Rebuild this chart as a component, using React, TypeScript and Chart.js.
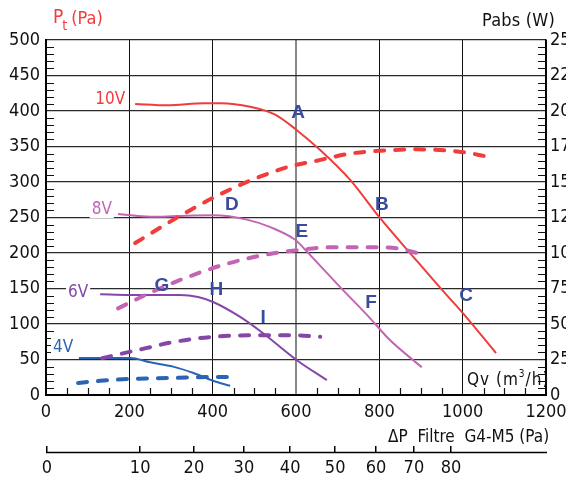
import React, { useEffect, useRef } from 'react';
import { Chart, registerables } from 'chart.js';
Chart.register(...registerables);

const FONT = "'DejaVu Sans Condensed', 'Liberation Sans Narrow', sans-serif";
const BOLD_FONT = "'Liberation Sans', 'DejaVu Sans', sans-serif";

// 10V
const qv10 = [214, 290, 380, 420, 490, 550, 602, 658, 730, 802, 881, 952, 1001, 1080];
const pt10 = [410, 408, 411, 411, 406, 395, 373, 345, 303, 249, 195, 147, 115, 59];
const qvW10 = [214, 315, 402, 490, 586, 650, 730, 802, 890, 1001, 1058];
const w10 = [107, 125, 139, 151, 161, 165, 170, 172, 173, 171, 168];
// 8V
const qv8 = [173, 250, 314, 401, 482, 540, 597, 620, 642, 706, 778, 826, 902];
const pt8 = [255, 251, 252, 253, 247, 236, 219, 206, 192, 152, 108, 77, 39];
const qvW8 = [173, 250, 322, 418, 521, 602, 682, 722, 794, 850, 890];
const w8 = [61, 72, 81, 91, 98.5, 102, 104, 104, 104, 103, 100];
// 6V
const qv6 = [130, 200, 274, 322, 365, 401, 466, 521, 602, 674];
const pt6 = [142, 141, 141, 141, 138, 131, 110, 87, 49, 21];
const qvW6 = [135, 180, 240, 300, 401, 490, 602, 658];
const w6 = [26, 29, 33, 37, 41, 42, 42, 41];
// 4V
const qv4 = [79, 154, 202, 250, 305, 354, 401, 442];
const pt4 = [52, 52, 52, 46, 40, 31, 20, 13];
const qvW4 = [77, 130, 202, 305, 410, 442];
const w4 = [8.5, 10, 11.3, 12, 12.7, 12.7];

// Filter pressure-drop secondary axis
const dpLabels = ['0', '10', '20', '30', '40', '50', '60', '70', '80'];
const dpQv = [2, 226, 355, 475, 586, 694, 792, 883, 972];

// Curve labels
const voltTexts = ['10V', '8V', '6V', '4V'];
const voltQv = [154, 134, 77, 41];
const voltPa = [417, 262, 145, 68];
const letterTexts = ['A', 'B', 'C', 'D', 'E', 'F', 'G', 'H', 'I'];
const letterQv = [605, 806, 1008, 446, 614, 780, 278, 409, 521];
const letterPa = [399, 270, 141, 270, 232, 131, 155, 149, 110];

const RED = '#f03c3c';
const PINK = '#c464b4';
const PURPLE = '#8646a8';
const BLUE = '#2b63b5';
const LETTER = '#3a4ca0';
const voltColors = [RED, PINK, PURPLE, BLUE];

const pts = (xs: number[], ys: number[]) => xs.map((x, i) => ({ x, y: ys[i] }));

const solid = (data: any, color: string) => ({
  data,
  borderColor: color,
  borderWidth: 2,
  pointRadius: 0,
  tension: 0.4,
  cubicInterpolationMode: 'monotone',
  yAxisID: 'y',
  fill: false,
});
const dashed = (data: any, color: string) => ({
  data,
  borderColor: color,
  borderWidth: 4,
  borderDash: [9, 11],
  borderCapStyle: 'round',
  pointRadius: 0,
  tension: 0.4,
  cubicInterpolationMode: 'monotone',
  yAxisID: 'y2',
  fill: false,
});

function spacedText(ctx: any, text: string, x: number, y: number, width: number) {
  ctx.letterSpacing = '0px';
  const w = ctx.measureText(text).width;
  const ls = Math.max(0, (width - w) / text.length);
  ctx.letterSpacing = ls + 'px';
  ctx.fillText(text, x, y);
  ctx.letterSpacing = '0px';
}

const decorPlugin = {
  id: 'decor',
  beforeDatasetsDraw(chart: any) {
    const { ctx, chartArea: a, scales } = chart;
    const x = scales.x, y = scales.y, y2 = scales.y2;
    ctx.save();
    ctx.strokeStyle = '#111';
    ctx.lineWidth = 1.2;
    ctx.beginPath();
    for (let v = 10; v < 500; v += 10) {
      if (v % 50 === 0) continue;
      const py = Math.round(y.getPixelForValue(v)) + 0.5;
      ctx.moveTo(a.left, py);
      ctx.lineTo(a.left + 8, py);
    }
    for (let v = 5; v < 250; v += 5) {
      if (v % 25 === 0) continue;
      const py = Math.round(y2.getPixelForValue(v)) + 0.5;
      ctx.moveTo(a.right - 8, py);
      ctx.lineTo(a.right, py);
    }
    for (let v = 50; v < 1200; v += 50) {
      if (v % 200 === 0) continue;
      const px = Math.round(x.getPixelForValue(v)) + 0.5;
      ctx.moveTo(px, a.bottom);
      ctx.lineTo(px, a.bottom - 7);
    }
    ctx.stroke();

    // voltage labels with white background
    ctx.font = `17px ${FONT}`;
    ctx.textAlign = 'center';
    ctx.textBaseline = 'middle';
    voltTexts.forEach((t, i) => {
      const px = x.getPixelForValue(voltQv[i]);
      const py = y.getPixelForValue(voltPa[i]);
      const w = ctx.measureText(t).width;
      ctx.fillStyle = '#fff';
      ctx.fillRect(px - w / 2 - 2, py - 9, w + 4, 18);
      ctx.fillStyle = voltColors[i];
      ctx.fillText(t, px, py + 1);
    });
    ctx.restore();
  },
  afterDatasetsDraw(chart: any) {
    const { ctx, scales } = chart;
    const x = scales.x, y = scales.y;
    ctx.save();
    ctx.font = `bold 19px ${BOLD_FONT}`;
    ctx.textAlign = 'center';
    ctx.textBaseline = 'middle';
    ctx.fillStyle = LETTER;
    letterTexts.forEach((t, i) => {
      ctx.fillText(t, x.getPixelForValue(letterQv[i]), y.getPixelForValue(letterPa[i]) + 1);
    });
    ctx.restore();
  },
  afterDraw(chart: any) {
    const { ctx, chartArea: a, scales } = chart;
    const x2 = scales.x2;
    ctx.save();
    // secondary axis base line
    const ly = x2.top + 6.5;
    ctx.strokeStyle = '#000';
    ctx.lineWidth = 1.5;
    ctx.beginPath();
    ctx.moveTo(x2.getPixelForValue(0), ly);
    ctx.lineTo(a.right + 1, ly);
    ctx.stroke();

    ctx.textBaseline = 'middle';
    ctx.fillStyle = '#111';
    // ΔP title
    ctx.font = `17px ${FONT}`;
    ctx.textAlign = 'left';
    spacedText(ctx, 'ΔP  Filtre  G4-M5 (Pa)', a.right - 158, 438, 158);

    // Qv label
    let qx = a.right - 79;
    const qy = a.bottom - 14;
    ctx.font = `17px ${FONT}`;
    ctx.letterSpacing = '1px';
    ctx.fillText('Qv (m', qx, qy);
    qx += ctx.measureText('Qv (m').width;
    ctx.font = `10px ${FONT}`;
    ctx.fillText('3', qx, qy - 7);
    qx += ctx.measureText('3').width;
    ctx.font = `17px ${FONT}`;
    ctx.fillText('/h)', qx, qy);
    ctx.letterSpacing = '0px';

    // Pabs (W)
    ctx.font = `18px ${FONT}`;
    spacedText(ctx, 'Pabs (W)', 482, 21, 73);

    // Pt (Pa)
    ctx.fillStyle = RED;
    ctx.font = `19px ${FONT}`;
    let tx = 53;
    ctx.fillText('P', tx, 18);
    tx += ctx.measureText('P').width - 1;
    ctx.font = `14px ${FONT}`;
    ctx.fillText('t', tx, 26);
    tx += ctx.measureText('t').width + 4;
    ctx.font = `18px ${FONT}`;
    ctx.fillText('(Pa)', tx, 19);
    ctx.restore();
  },
};

export default function App() {
  const ref = useRef<HTMLCanvasElement>(null);
  useEffect(() => {
    document.body.style.margin = '0';
    document.body.style.overflow = 'hidden';
    const tickFont = { family: FONT, size: 18 };
    const chart = new Chart(ref.current!, {
      type: 'line',
      data: {
        datasets: [
          dashed(pts(qvW10, w10), RED),
          dashed(pts(qvW8, w8), PINK),
          dashed(pts(qvW6, w6), PURPLE),
          dashed(pts(qvW4, w4), BLUE),
          solid(pts(qv10, pt10), RED),
          solid(pts(qv8, pt8), PINK),
          solid(pts(qv6, pt6), PURPLE),
          solid(pts(qv4, pt4), BLUE),
        ] as any,
      },
      options: {
        animation: false,
        responsive: true,
        maintainAspectRatio: false,
        layout: { padding: { top: 40, left: 0, right: 0, bottom: 0 } },
        plugins: { legend: { display: false }, tooltip: { enabled: false } },
        scales: {
          x: {
            type: 'linear',
            position: 'bottom',
            min: 0,
            max: 1200,
            afterFit: (s: any) => { s.height = 51; s.paddingRight = 0; s.paddingLeft = 0; },
            ticks: { stepSize: 200, font: tickFont, color: '#111', padding: 7, maxRotation: 0, callback: (v: any) => String(v) },
            grid: {
              drawTicks: false,
              color: (c: any) => (c.tick && c.tick.value === 600 ? '#888' : '#111'),
              lineWidth: (c: any) => (c.tick && c.tick.value === 600 ? 2 : 1),
            },
            border: { display: true, color: '#000', width: 2 },
          },
          x2: {
            type: 'linear',
            position: 'bottom',
            min: 0,
            max: 1200,
            afterBuildTicks: (s: any) => { s.ticks = dpQv.map((v) => ({ value: v })); },
            afterFit: (s: any) => { s.height = 36; s.paddingRight = 0; s.paddingLeft = 0; },
            ticks: {
              font: tickFont,
              color: '#111',
              padding: 6,
              maxRotation: 0,
              autoSkip: false,
              callback: (_v: any, i: number) => dpLabels[i],
            },
            grid: { drawOnChartArea: false, drawTicks: true, tickLength: 6, color: '#000', lineWidth: 1.5 },
            border: { display: false },
          },
          y: {
            type: 'linear',
            position: 'left',
            min: 0,
            max: 500,
            afterFit: (s: any) => { s.width = 46; },
            ticks: { stepSize: 50, font: tickFont, color: '#111', padding: 6 },
            grid: { drawTicks: false, color: '#2a2a2a', lineWidth: 1.2 },
            border: { display: true, color: '#000', width: 2 },
          },
          y2: {
            type: 'linear',
            position: 'right',
            min: 0,
            max: 250,
            afterFit: (s: any) => { s.width = 20; },
            ticks: { stepSize: 25, font: tickFont, color: '#111', padding: 4 },
            grid: { drawOnChartArea: false, drawTicks: false },
            border: { display: true, color: '#000', width: 1.5 },
          },
        },
      } as any,
      plugins: [decorPlugin],
    });
    return () => chart.destroy();
  }, []);
  return (
    <div style={{ width: 566, height: 482, position: 'relative' }}>
      <canvas ref={ref} />
    </div>
  );
}
